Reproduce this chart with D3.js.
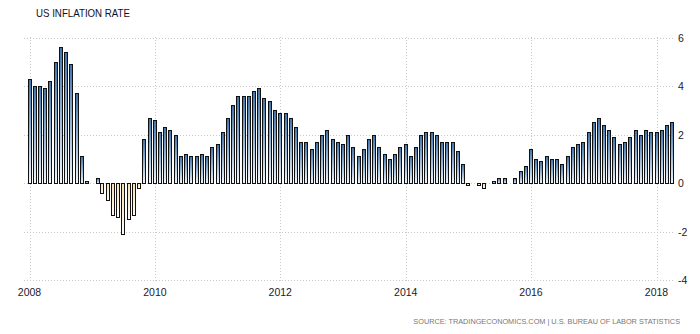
<!DOCTYPE html>
<html><head><meta charset="utf-8">
<script src="https://cdn.jsdelivr.net/npm/d3@7"></script>
<style>body{margin:0;background:#fff;}svg{display:block;}</style>
</head><body>
<svg id="chart" width="700" height="334"></svg>
<script>
const title = "US INFLATION RATE";
const source = "SOURCE: TRADINGECONOMICS.COM | U.S. BUREAU OF LABOR STATISTICS";
const startYear = 2008;
const values2008 = [4.3,4.0,4.0,3.9,4.2,5.0,5.6,5.4,4.9,3.7,1.1,0.1];
const values2009 = [0.0,0.2,-0.4,-0.7,-1.3,-1.4,-2.1,-1.5,-1.3,-0.2,1.8,2.7];
const values2010 = [2.6,2.1,2.3,2.2,2.0,1.1,1.2,1.1,1.1,1.2,1.1,1.5];
const values2011 = [1.6,2.1,2.7,3.2,3.6,3.6,3.6,3.8,3.9,3.5,3.4,3.0];
const values2012 = [2.9,2.9,2.7,2.3,1.7,1.7,1.4,1.7,2.0,2.2,1.8,1.7];
const values2013 = [1.6,2.0,1.5,1.1,1.4,1.8,2.0,1.5,1.2,1.0,1.2,1.5];
const values2014 = [1.6,1.1,1.5,2.0,2.1,2.1,2.0,1.7,1.7,1.7,1.3,0.8];
const values2015 = [-0.1,0.0,-0.1,-0.2,0.0,0.1,0.2,0.2,0.0,0.2,0.5,0.7];
const values2016 = [1.4,1.0,0.9,1.1,1.0,1.0,0.8,1.1,1.5,1.6,1.7,2.1];
const values2017 = [2.5,2.7,2.4,2.2,1.9,1.6,1.7,1.9,2.2,2.0,2.2,2.1];
const values2018 = [2.1,2.2,2.4,2.5];
const xTickYears = [2008,2010,2012,2014,2016,2018];
const yTicks = [-4,-2,0,2,4,6];

const allValues = [].concat(values2008,values2009,values2010,values2011,values2012,values2013,values2014,values2015,values2016,values2017,values2018);
const data = allValues.map((v,i)=>({date:new Date(startYear + Math.floor(i/12), i%12, 1), value:v}));

const svg = d3.select("#chart");
const x = d3.scaleTime().domain([new Date(2008,0,1), new Date(2018,0,1)]).range([29.5, 656.5]);
const y = d3.scaleLinear().domain([-4,6]).range([280,37.5]);

const defs = svg.append("defs");
const gp = defs.append("linearGradient").attr("id","gpos").attr("x1",0).attr("y1",0).attr("x2",0).attr("y2",1);
gp.append("stop").attr("offset","0%").attr("stop-color","#3f74ad");
gp.append("stop").attr("offset","100%").attr("stop-color","#f2f7fd");
const gn = defs.append("linearGradient").attr("id","gneg").attr("x1",0).attr("y1",0).attr("x2",0).attr("y2",1);
gn.append("stop").attr("offset","0%").attr("stop-color","#f6dfb4");
gn.append("stop").attr("offset","100%").attr("stop-color","#fffdf8");

// horizontal grid
svg.append("g").selectAll("line").data(yTicks).join("line")
  .attr("x1",24).attr("x2",675)
  .attr("y1",d=>Math.round(y(d))+0.5).attr("y2",d=>Math.round(y(d))+0.5)
  .attr("stroke","#c8c8c8").attr("stroke-dasharray","1,2").attr("stroke-width",1);
// vertical grid
svg.append("g").selectAll("line").data(xTickYears).join("line")
  .attr("x1",d=>Math.round(x(new Date(d,0,1)))+0.5).attr("x2",d=>Math.round(x(new Date(d,0,1)))+0.5)
  .attr("y1",37).attr("y2",283)
  .attr("stroke","#c8c8c8").attr("stroke-dasharray","1,2").attr("stroke-width",1);

// bars (pixel-snapped)
const y0 = Math.round(y(0));
svg.append("g").selectAll("rect").data(data.filter(d=>d.value!==0)).join("rect")
  .attr("x",d=>Math.round(x(d.date)-2)+0.5)
  .attr("y",d=>d.value>0 ? Math.round(y(d.value))+0.5 : y0+0.5)
  .attr("width",3)
  .attr("height",d=>Math.max(1,Math.abs(Math.round(y(d.value))-y0)))
  .attr("fill",d=>d.value>0?"url(#gpos)":"url(#gneg)")
  .attr("stroke","#111").attr("stroke-width",1);

// x labels
svg.append("g").selectAll("text").data(xTickYears).join("text")
  .attr("x",d=>x(new Date(d,0,1))).attr("y",296)
  .attr("text-anchor","middle")
  .attr("font-family","Liberation Sans, Arial, sans-serif").attr("font-size","10.5px")
  .attr("fill","#1a1a2a").text(d=>d);
// y labels (right)
svg.append("g").selectAll("text").data(yTicks).join("text")
  .attr("x",678).attr("y",d=>y(d)+4)
  .attr("text-anchor","start")
  .attr("font-family","Liberation Sans, Arial, sans-serif").attr("font-size","10.5px")
  .attr("fill","#1a1a2a").text(d=>d);

// title
svg.append("text").attr("x",36).attr("y",16.7)
  .attr("font-family","Liberation Sans, Arial, sans-serif").attr("font-size","10.5px")
  .attr("textLength",94).attr("lengthAdjust","spacingAndGlyphs")
  .attr("fill","#10102a").text(title);
// source
svg.append("text").attr("x",680).attr("y",324).attr("text-anchor","end")
  .attr("font-family","Liberation Sans, Arial, sans-serif").attr("font-size","7.3px")
  .attr("fill","#777").text(source);
</script>
</body></html>
